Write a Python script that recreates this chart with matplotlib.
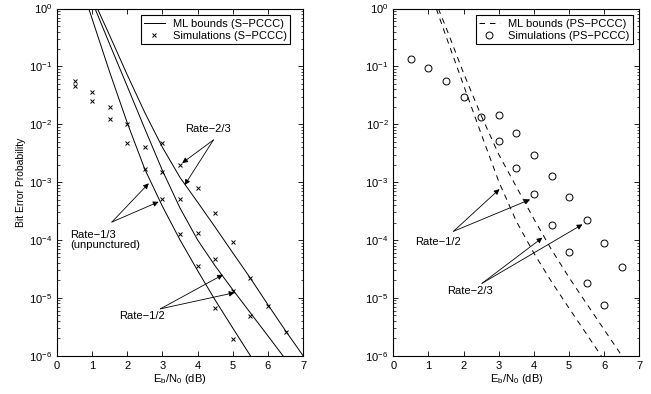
import numpy as np
import matplotlib
matplotlib.use("Agg")
import matplotlib.pyplot as plt

plt.rcParams['font.family'] = ['Liberation Sans', 'DejaVu Sans']
plt.rcParams['mathtext.default'] = 'regular'
plt.rcParams['lines.scale_dashes'] = False

# ---- data ----
# S-PCCC (left panel)
ebno_bound_s = [0.5, 1.0, 1.5, 2.0, 2.5, 3.0, 3.5, 4.0, 4.5, 5.0, 5.5, 6.0, 6.5, 7.0]
bound_s_r13 = [5.6, 0.66, 0.079, 0.0105, 1.66e-3, 3.8e-4, 1.0e-4, 2.95e-5, 9.1e-6, 3.0e-6, 1.0e-6, 3.4e-7, None, None]
bound_s_r12 = [None, 1.32, 0.24, 0.045, 8.3e-3, 1.58e-3, 3.55e-4, 1.0e-4, 3.55e-5, 1.38e-5, 5.5e-6, 2.2e-6, 8.7e-7, None]
bound_s_r23 = [None, 1.58, 0.34, 0.071, 0.0158, 3.98e-3, 1.2e-3, 4.5e-4, 1.66e-4, 6.0e-5, 2.19e-5, 7.6e-6, 2.7e-6, 1.0e-6]

sim_s_r13_x = [0.5, 1.0, 1.5, 2.0, 2.5, 3.0, 3.5, 4.0, 4.5, 5.0]
sim_s_r13 = [0.046, 0.0256, 0.0122, 0.0048, 1.67e-3, 5.1e-4, 1.26e-4, 3.57e-5, 6.6e-6, 1.96e-6]
sim_s_r12_x = [0.5, 1.0, 1.5, 2.0, 2.5, 3.0, 3.5, 4.0, 4.5, 5.0, 5.5]
sim_s_r12 = [0.057, 0.036, 0.020, 0.0101, 0.0041, 1.52e-3, 5.1e-4, 1.3e-4, 4.65e-5, 1.32e-5, 4.77e-6]
sim_s_r23_x = [3.0, 3.5, 4.0, 4.5, 5.0, 5.5, 6.0, 6.5]
sim_s_r23 = [0.0047, 1.98e-3, 7.85e-4, 2.9e-4, 9.4e-5, 2.19e-5, 7.3e-6, 2.55e-6]

# PS-PCCC (right panel)
ebno_bound_ps = [1.0, 1.5, 2.0, 2.5, 3.0, 3.5, 4.0, 4.5, 5.0, 5.5, 6.0, 6.5, 7.0]
bound_ps_r12 = [2.4, 0.33, 0.047, 6.8e-3, 1.02e-3, 2.1e-4, 5.9e-5, 1.9e-5, 6.6e-6, 2.35e-6, 8.3e-7, None, None]
bound_ps_r23 = [2.6, 0.47, 0.076, 0.0141, 3.0e-3, 8.3e-4, 2.3e-4, 6.8e-5, 2.24e-5, 7.9e-6, 2.8e-6, 1.0e-6, 3.5e-7]

sim_ps_r12_x = [0.5, 1.0, 1.5, 2.0, 2.5, 3.0, 3.5, 4.0, 4.5, 5.0, 5.5, 6.0]
sim_ps_r12 = [0.136, 0.093, 0.056, 0.030, 0.0135, 0.0052, 1.78e-3, 6.2e-4, 1.82e-4, 6.3e-5, 1.84e-5, 7.6e-6]
sim_ps_r23_x = [3.0, 3.5, 4.0, 4.5, 5.0, 5.5, 6.0, 6.5]
sim_ps_r23 = [0.0147, 0.0070, 2.95e-3, 1.28e-3, 5.6e-4, 2.22e-4, 8.8e-5, 3.47e-5]

yticks = [1e-6, 1e-5, 1e-4, 1e-3, 1e-2, 1e-1, 1e0]
xticks = [0, 1, 2, 3, 4, 5, 6, 7]


def clean(xs, ys):
    pts = [(x, y) for x, y in zip(xs, ys) if y is not None]
    return [p[0] for p in pts], [p[1] for p in pts]


def style_axes(ax):
    ax.set_yscale('log')
    ax.set_xlim(0, 7)
    ax.set_ylim(1e-6, 1)
    ax.set_xticks(xticks)
    ax.set_yticks(yticks)
    ax.tick_params(which='both', direction='in', top=True, right=True, labelsize=8)
    ax.tick_params(which='major', length=3.5, width=0.6)
    ax.tick_params(which='minor', length=1.8, width=0.5)
    for s in ax.spines.values():
        s.set_linewidth(0.8)
    ax.set_xlabel('E$_b$/N$_0$ (dB)', fontsize=8, labelpad=1)


def arrow(ax, start, tip):
    ax.annotate('', xy=tip, xytext=start,
                arrowprops=dict(arrowstyle='-|>', color='k', lw=0.6,
                                mutation_scale=8, shrinkA=0, shrinkB=0))


def legend(ax, handles, labels, anchor):
    leg = ax.legend(handles, labels, loc='upper right', bbox_to_anchor=anchor,
                    fontsize=8, fancybox=False, framealpha=1, edgecolor='k',
                    handlelength=1.9, borderaxespad=0, borderpad=0.3,
                    labelspacing=0.2, handletextpad=0.7)
    leg.get_frame().set_linewidth(0.8)
    return leg


fig = plt.figure(figsize=(6.51, 3.94), dpi=100)
ax1 = fig.add_axes([0.0876, 0.0972, 0.378, 0.881])
ax2 = fig.add_axes([0.6042, 0.0972, 0.378, 0.881])

# left panel
for ys in (bound_s_r13, bound_s_r12, bound_s_r23):
    xs, yv = clean(ebno_bound_s, ys)
    ax1.plot(xs, yv, color='k', lw=0.7)
for xs, ys in ((sim_s_r13_x, sim_s_r13), (sim_s_r12_x, sim_s_r12), (sim_s_r23_x, sim_s_r23)):
    ax1.plot(xs, ys, ls='none', marker='x', color='k', ms=3.5, mew=0.7)
style_axes(ax1)
ax1.set_ylabel('Bit Error Probability', fontsize=7.5, labelpad=2)
h1, = ax1.plot([], [], color='k', lw=0.7)
h2, = ax1.plot([], [], ls='none', marker='x', color='k', ms=3.5, mew=0.7)
legend(ax1, [h1, h2], ['ML bounds (S\u2212PCCC)', 'Simulations (S\u2212PCCC)'], (0.947, 0.981))

ax1.text(4.3, 10**-2.08, 'Rate\u22122/3', fontsize=8, ha='center', va='center')
arrow(ax1, (4.45, 10**-2.27), (3.56, 10**-2.67))
arrow(ax1, (4.45, 10**-2.27), (3.63, 10**-3.05))
ax1.text(0.38, 10**-4.0, 'Rate\u22121/3\n(unpunctured)', fontsize=8, ha='left', va='center',
         linespacing=1.0)
arrow(ax1, (1.56, 10**-3.69), (2.61, 10**-3.02))
arrow(ax1, (1.56, 10**-3.69), (2.89, 10**-3.34))
ax1.text(2.43, 10**-5.32, 'Rate\u22121/2', fontsize=8, ha='center', va='center')
arrow(ax1, (2.94, 10**-5.19), (4.72, 10**-4.60))
arrow(ax1, (2.94, 10**-5.19), (5.05, 10**-4.91))

# right panel
for ys in (bound_ps_r12, bound_ps_r23):
    xs, yv = clean(ebno_bound_ps, ys)
    ax2.plot(xs, yv, color='k', lw=0.7, dashes=[4, 3.5])
for xs, ys in ((sim_ps_r12_x, sim_ps_r12), (sim_ps_r23_x, sim_ps_r23)):
    ax2.plot(xs, ys, ls='none', marker='o', mfc='none', mec='k', ms=5, mew=0.7)
style_axes(ax2)
h3, = ax2.plot([], [], color='k', lw=0.7, dashes=[4, 3.5])
h4, = ax2.plot([], [], ls='none', marker='o', mfc='none', mec='k', ms=5, mew=0.7)
legend(ax2, [h3, h4], ['ML bounds (PS\u2212PCCC)', 'Simulations (PS\u2212PCCC)'], (0.972, 0.981))

ax2.text(1.26, 10**-4.03, 'Rate\u22121/2', fontsize=8, ha='center', va='center')
arrow(ax2, (1.71, 10**-3.85), (3.02, 10**-3.12))
arrow(ax2, (1.71, 10**-3.85), (3.89, 10**-3.30))
ax2.text(2.18, 10**-4.89, 'Rate\u22122/3', fontsize=8, ha='center', va='center')
arrow(ax2, (2.52, 10**-4.75), (4.24, 10**-3.96))
arrow(ax2, (2.52, 10**-4.75), (5.38, 10**-3.73))

fig.savefig('out.png', dpi=100)
